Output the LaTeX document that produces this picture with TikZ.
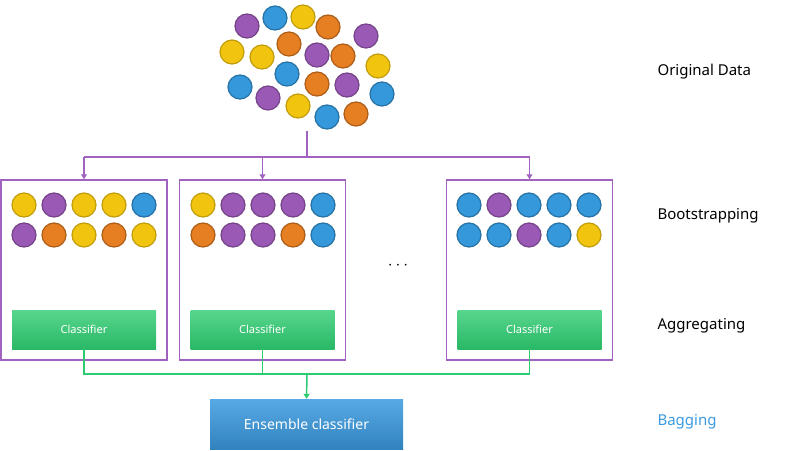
\documentclass[tikz,border=0pt]{standalone}
\usepackage{fontspec}
\setmainfont{Noto Sans}
\usetikzlibrary{arrows.meta}
\definecolor{cP}{HTML}{9B59B6}\definecolor{cB}{HTML}{3498DB}
\definecolor{cY}{HTML}{F1C40F}\definecolor{cO}{HTML}{E67E22}
\definecolor{frame}{HTML}{A262C0}\definecolor{grn}{HTML}{2ECC71}
\definecolor{bagb}{HTML}{3A9AE0}
\begin{document}
\begin{tikzpicture}[x=1pt,y=-1pt,
 dot/.style={circle,minimum size=24pt,inner sep=0pt,line width=1.2pt},
 P/.style={dot,fill=cP,draw=cP!75!black},B/.style={dot,fill=cB,draw=cB!75!black},
 Y/.style={dot,fill=cY,draw=cY!80!black},O/.style={dot,fill=cO,draw=cO!75!black},
 bag/.style={draw=frame,line width=1.5pt,minimum width=166pt,minimum height=180pt,inner sep=0pt},
 clf/.style={minimum width=144pt,minimum height=39pt,inner sep=0pt,top color=grn!80!white,bottom color=grn!90!black,text=white,font=\fontsize{11}{13}\selectfont},
 pl/.style={draw=frame,line width=1.5pt},
 gl/.style={draw=grn,line width=1.5pt},
 lab/.style={anchor=west,font=\fontsize{15}{18}\selectfont}]
\useasboundingbox (0,0) rectangle (800,450);
\foreach \s/\x/\y [count=\i] in {P/247/26,B/275/18,Y/303/17,O/328/27,P/366/36,Y/232/52,Y/262/57,O/289/44,P/317/55,O/343/56,Y/378/66,B/240/87,B/287/74,O/317/84,P/347/85,B/382/94,P/268/98,Y/298/106,B/327/117,O/356/114}
  \node[\s] (d\i) at (\x,\y) {};
\coordinate (top) at (307,131);
\node[bag] (b1) at (84,270) {};
\node[bag] (b2) at (262.5,270) {};
\node[bag] (b3) at (529.5,270) {};
\foreach \s [count=\i] in {Y,P,Y,Y,B}{\node[\s] at (24+30*\i-30,205) {};}
\foreach \s [count=\i] in {P,O,Y,O,Y}{\node[\s] at (24+30*\i-30,235) {};}
\foreach \s [count=\i] in {Y,P,P,P,B}{\node[\s] at (203+30*\i-30,205) {};}
\foreach \s [count=\i] in {O,P,P,O,B}{\node[\s] at (203+30*\i-30,235) {};}
\foreach \s [count=\i] in {B,P,B,B,B}{\node[\s] at (469+30*\i-30,205) {};}
\foreach \s [count=\i] in {B,B,P,B,Y}{\node[\s] at (469+30*\i-30,235) {};}
\node[clf] (c1) at (84,329.5) {Classifier};
\node[clf] (c2) at (262.5,329.5) {Classifier};
\node[clf] (c3) at (529.5,329.5) {Classifier};
\node[font=\fontsize{18}{18}\selectfont] (dots) at (398,266) {$\cdots$};
\node[minimum width=193pt,minimum height=50pt,inner sep=0pt,top color=bagb!85!white,bottom color=bagb!85!black,text=white,font=\bfseries\fontsize{14}{16}\selectfont] (ens) at (306.5,424) {Ensemble classifier};
\coordinate (sp) at (307,157);
\draw[pl] (top) -- (sp);
\draw[pl] (sp) -| (84,157) coordinate (l1);
\draw[pl] (sp) -| (529.5,157) coordinate (l3);
\foreach \b in {b1,b2,b3} \draw[pl,-{Triangle[length=5pt,width=6pt]}] (\b.north|-sp) -- (\b.north);
\coordinate (gj) at (307,374);
\draw[gl] (c1.south) |- (gj) -| (c3.south);
\draw[gl] (c2.south) -- (c2.south|-gj);
\draw[gl,-{Triangle[length=5pt,width=6pt]}] (gj) -- (ens.north);
\node[lab] (t1) at (654,72) {Original Data};
\node[lab,font=\bfseries\fontsize{15}{18}\selectfont] (t2) at (654,216) {Bootstrapping};
\node[lab,font=\bfseries\fontsize{15}{18}\selectfont] (t3) at (654,326) {Aggregating};
\node[lab,font=\bfseries\fontsize{15}{18}\selectfont,text=bagb] (t4) at (654,422) {Bagging};
\end{tikzpicture}
\end{document}
